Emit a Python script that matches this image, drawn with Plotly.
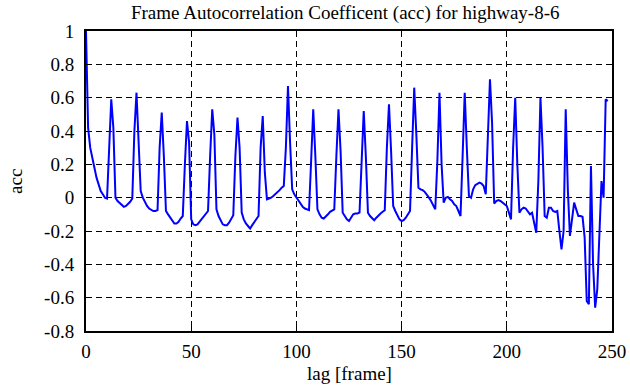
import plotly.graph_objects as go

title_text = "Frame Autocorrelation Coefficent (acc) for highway-8-6"
x_label = "lag [frame]"
y_label = "acc"

lags = list(range(249))
acc = [
    1.00, 0.42, 0.30, 0.23, 0.18, 0.12, 0.08, 0.04, 0.02, 0.00,
    -0.005, 0.27, 0.59, 0.42, 0.00, -0.02, -0.03, -0.045, -0.055, -0.05,
    -0.04, -0.025, -0.005, 0.40, 0.63, 0.35, 0.04, 0.00, -0.03, -0.05,
    -0.065, -0.075, -0.08, -0.08, -0.075, 0.30, 0.51, 0.25, -0.08, -0.10,
    -0.12, -0.14, -0.155, -0.155, -0.145, -0.125, -0.11, 0.20, 0.46, 0.33,
    -0.13, -0.16, -0.165, -0.16, -0.145, -0.13, -0.115, -0.10, -0.08, 0.25,
    0.53, 0.38, -0.07, -0.11, -0.14, -0.16, -0.165, -0.165, -0.15, -0.13,
    -0.105, 0.25, 0.48, 0.30, -0.09, -0.13, -0.155, -0.17, -0.185, -0.165,
    -0.145, -0.125, -0.11, 0.30, 0.49, 0.15, -0.01, -0.005, 0.00, 0.01,
    0.02, 0.03, 0.045, 0.06, 0.07, 0.30, 0.67, 0.33, 0.05, 0.02,
    0.00, -0.02, -0.04, -0.055, -0.065, -0.07, -0.075, 0.22, 0.53, 0.25,
    -0.07, -0.10, -0.12, -0.125, -0.115, -0.10, -0.085, -0.075, -0.07, 0.25,
    0.53, 0.28, -0.09, -0.11, -0.13, -0.14, -0.12, -0.10, -0.095, -0.095,
    -0.09, 0.22, 0.52, 0.25, -0.09, -0.11, -0.125, -0.135, -0.12, -0.105,
    -0.095, -0.085, -0.075, 0.30, 0.56, 0.28, -0.05, -0.08, -0.11, -0.13,
    -0.14, -0.135, -0.12, -0.10, -0.08, 0.30, 0.66, 0.38, 0.06, 0.05,
    0.045, 0.035, 0.02, 0.00, -0.02, -0.05, -0.07, 0.22, 0.63, 0.20,
    -0.03, 0.00, 0.005, -0.01, -0.02, -0.04, -0.05, -0.08, -0.11, 0.25,
    0.63, 0.30, 0.01, 0.00, 0.05, 0.075, 0.085, 0.09, 0.085, 0.07,
    0.02, 0.40, 0.71, 0.45, -0.035, -0.02, -0.015, -0.02, -0.03, -0.04,
    -0.05, -0.09, -0.13, 0.30, 0.60, 0.20, -0.09, -0.07, -0.06, -0.065,
    -0.08, -0.10, -0.09, -0.15, -0.21, 0.10, 0.60, 0.30, -0.11, -0.12,
    -0.06, -0.06, -0.08, -0.085, -0.08, -0.20, -0.31, -0.20, 0.53, 0.05,
    -0.23, -0.13, -0.03, -0.07, -0.11, -0.11, -0.115, -0.24, -0.62, -0.64,
    0.19, -0.40, -0.66, -0.55, -0.20, 0.10, 0.00, 0.59, 0.58,
]

x_ticks = [0, 50, 100, 150, 200, 250]
x_ticktext = ["0", "50", "100", "150", "200", "250"]
y_ticks = [-0.8, -0.6, -0.4, -0.2, 0, 0.2, 0.4, 0.6, 0.8, 1]
y_ticktext = ["-0.8", "-0.6", "-0.4", "-0.2", "0", "0.2", "0.4", "0.6", "0.8", "1"]

FONT = "Liberation Serif"
TXT = dict(family=FONT, size=19, color="black")

fig = go.Figure()
fig.add_trace(go.Scatter(
    x=lags, y=acc, mode="lines",
    line=dict(color="#0000FF", width=2),
    showlegend=False,
))

axis_common = dict(
    showline=True, linecolor="black", linewidth=2, mirror="ticks",
    ticks="inside", ticklen=5, tickwidth=1, tickcolor="black",
    showgrid=True, gridcolor="black", gridwidth=1, griddash="6px,4px",
    zeroline=False, automargin=False,
    tickfont=TXT,
)

fig.update_layout(
    width=630, height=387,
    paper_bgcolor="white", plot_bgcolor="white",
    font=TXT,
    margin=dict(l=86, r=18, t=31, b=56),
    title=dict(text=title_text, x=0.548, xanchor="center", y=0.968, yanchor="middle",
               font=TXT),
    xaxis=dict(range=[0, 250], tickvals=x_ticks, ticktext=x_ticktext,
               ticklabelstandoff=2, **axis_common),
    yaxis=dict(range=[-0.8, 1], tickvals=y_ticks, ticktext=y_ticktext,
               ticklabelstandoff=6, **axis_common),
    annotations=[
        dict(text=x_label, xref="paper", yref="paper", x=0.5, y=-0.143,
             xanchor="center", yanchor="middle", showarrow=False, font=TXT),
        dict(text=y_label, xref="paper", yref="paper", x=-0.135, y=0.5,
             xanchor="center", yanchor="middle", textangle=-90,
             showarrow=False, font=TXT),
    ],
)

fig.write_html("out.html", config={"displayModeBar": False},
               post_script="document.body.style.margin='0';")
